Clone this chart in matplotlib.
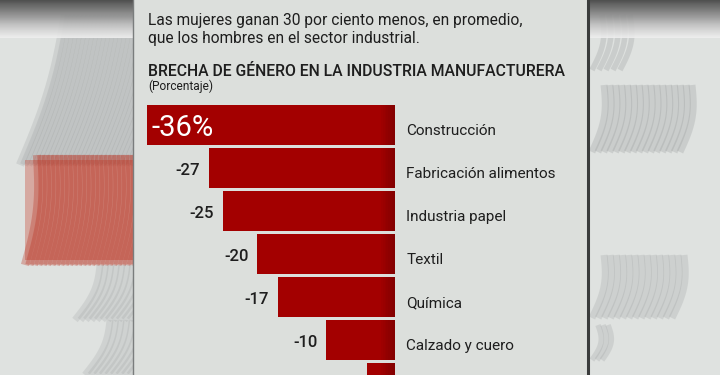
import matplotlib
matplotlib.use('Agg')
import matplotlib.pyplot as plt
import matplotlib.patches as mpatches
import numpy as np

# ---------------------------------------------------------------------------
# DATA
# ---------------------------------------------------------------------------
sectores = ['Construcción', 'Fabricación alimentos', 'Industria papel', 'Textil',
            'Química', 'Calzado y cuero', 'Fabricación de material eléctrico']
brecha = [-36, -27, -25, -20, -17, -10, -4]
etiquetas = ['-36%', '-27', '-25', '-20', '-17', '-10', '-4']

intro = ('Las mujeres ganan 30 por ciento menos, en promedio,\n'
         'que los hombres en el sector industrial.')
titulo = 'BRECHA DE GÉNERO EN LA INDUSTRIA MANUFACTURERA'
subtitulo = '(Porcentaje)'

# ---------------------------------------------------------------------------
# STYLE
# ---------------------------------------------------------------------------
W, H = 720, 375
BG = '#dfe2e0'
PANEL = '#dcdfdc'
RED = '#a30000'
TXT = '#1e1e1e'
plt.rcParams['font.family'] = ['Roboto', 'DejaVu Sans']

fig = plt.figure(figsize=(W / 100, H / 100), dpi=100, facecolor=BG)

# background layer in pixel coordinates
bg = fig.add_axes([0, 0, 1, 1])
bg.set_xlim(0, W)
bg.set_ylim(H, 0)
bg.axis('off')
bg.set_facecolor(BG)


def strokes(x0, x1, ytop, ybot, lean, color, n, lw=5, alpha=0.35):
    # a band of slanted brush strokes (decoration only)
    for xs in np.linspace(x0, x1, n):
        t = np.linspace(0, 1, 20)
        xx = xs + lean * t + 6 * np.sin(np.pi * t)
        yy = ybot + (ytop - ybot) * t
        bg.plot(xx, yy, color=color, lw=lw, alpha=alpha,
                solid_capstyle='butt', zorder=1)


# left side
strokes(20, 130, 15, 165, 45, '#8c8f90', 28, lw=6, alpha=0.2)
bg.add_patch(mpatches.Rectangle((25, 160), 110, 100, facecolor='#c8402c',
                                alpha=0.35, lw=0, zorder=1))
strokes(25, 135, 155, 265, 12, '#b82614', 26, lw=6, alpha=0.3)
strokes(75, 135, 265, 320, 25, '#9a9d9e', 12, lw=5, alpha=0.22)
strokes(85, 135, 320, 375, 25, '#9a9d9e', 10, lw=5, alpha=0.22)
# right side
strokes(592, 620, 15, 70, 10, '#8f9293', 5, lw=4, alpha=0.25)
strokes(592, 680, 85, 152, 12, '#8f9293', 16, lw=5, alpha=0.25)
strokes(592, 672, 255, 318, 12, '#9a9d9e', 14, lw=5, alpha=0.25)
strokes(592, 602, 325, 360, 6, '#9a9d9e', 3, lw=4, alpha=0.25)

# dark fade at the top edge
grad = np.linspace(1, 0, 40)[:, None]
bg.imshow(np.repeat(grad, 10, axis=1), cmap='Greys', vmin=-0.2, vmax=1.3,
          extent=(0, W, 38, 0), aspect='auto', alpha=0.9, zorder=1.5)

# panel
bg.add_patch(mpatches.Rectangle((133, -2), 454, H + 4, facecolor=PANEL,
                                edgecolor='none', zorder=2))
bg.plot([133, 133], [0, H], color='#7a7d7d', lw=1.0, zorder=3)
bg.plot([587.5, 587.5], [0, H], color='#3a3c3c', lw=2.2, zorder=3)

# header text
bg.text(148, 42.5, intro, fontsize=11.2, color=TXT, va='baseline', ha='left',
        linespacing=1.2, zorder=4)
bg.text(148, 75.5, titulo, fontsize=11.3, color=TXT, va='baseline', ha='left',
        fontweight='medium', zorder=4)
bg.text(148, 90, subtitulo, fontsize=8.6, color=TXT, va='baseline', ha='left',
        zorder=4)

# ---------------------------------------------------------------------------
# BARS
# ---------------------------------------------------------------------------
x_zero, px_per_unit = 395, 6.9
y0, pitch = 125, 43
ax = fig.add_axes([130 / W, 0, (x_zero - 130) / W, 1])
ax.set_xlim(-(x_zero - 130) / px_per_unit, 0)
ax.set_ylim((H - y0) / pitch, -y0 / pitch)
ax.axis('off')
ax.patch.set_alpha(0)

ypos = np.arange(len(sectores))
ax.barh(ypos, brecha, height=0.93, color=RED, lw=0, zorder=3)
# soft darkening toward the right end of each bar
for i in range(8):
    ax.barh(ypos, [-2.0 + 0.25 * i] * len(ypos), height=0.93,
            color='#5a0000', alpha=0.06, lw=0, zorder=4)

for i, (v, lab, name) in enumerate(zip(brecha, etiquetas, sectores)):
    if i == 0:
        ax.text(v + 0.75, i + 0.07, lab, color='white', fontsize=21,
                ha='left', va='center', zorder=5)
    else:
        ax.annotate(lab, (v, i + 0.06), xytext=(-6, 0), textcoords='offset points',
                    ha='right', va='center', fontsize=12, fontweight='medium',
                    color=TXT, annotation_clip=False, zorder=5)
    ax.annotate(name, (0, i + 0.14), xytext=(8, 0), textcoords='offset points',
                ha='left', va='center', fontsize=11, color=TXT,
                annotation_clip=False, zorder=5)

fig.savefig('out.png', dpi=100, facecolor=BG)
